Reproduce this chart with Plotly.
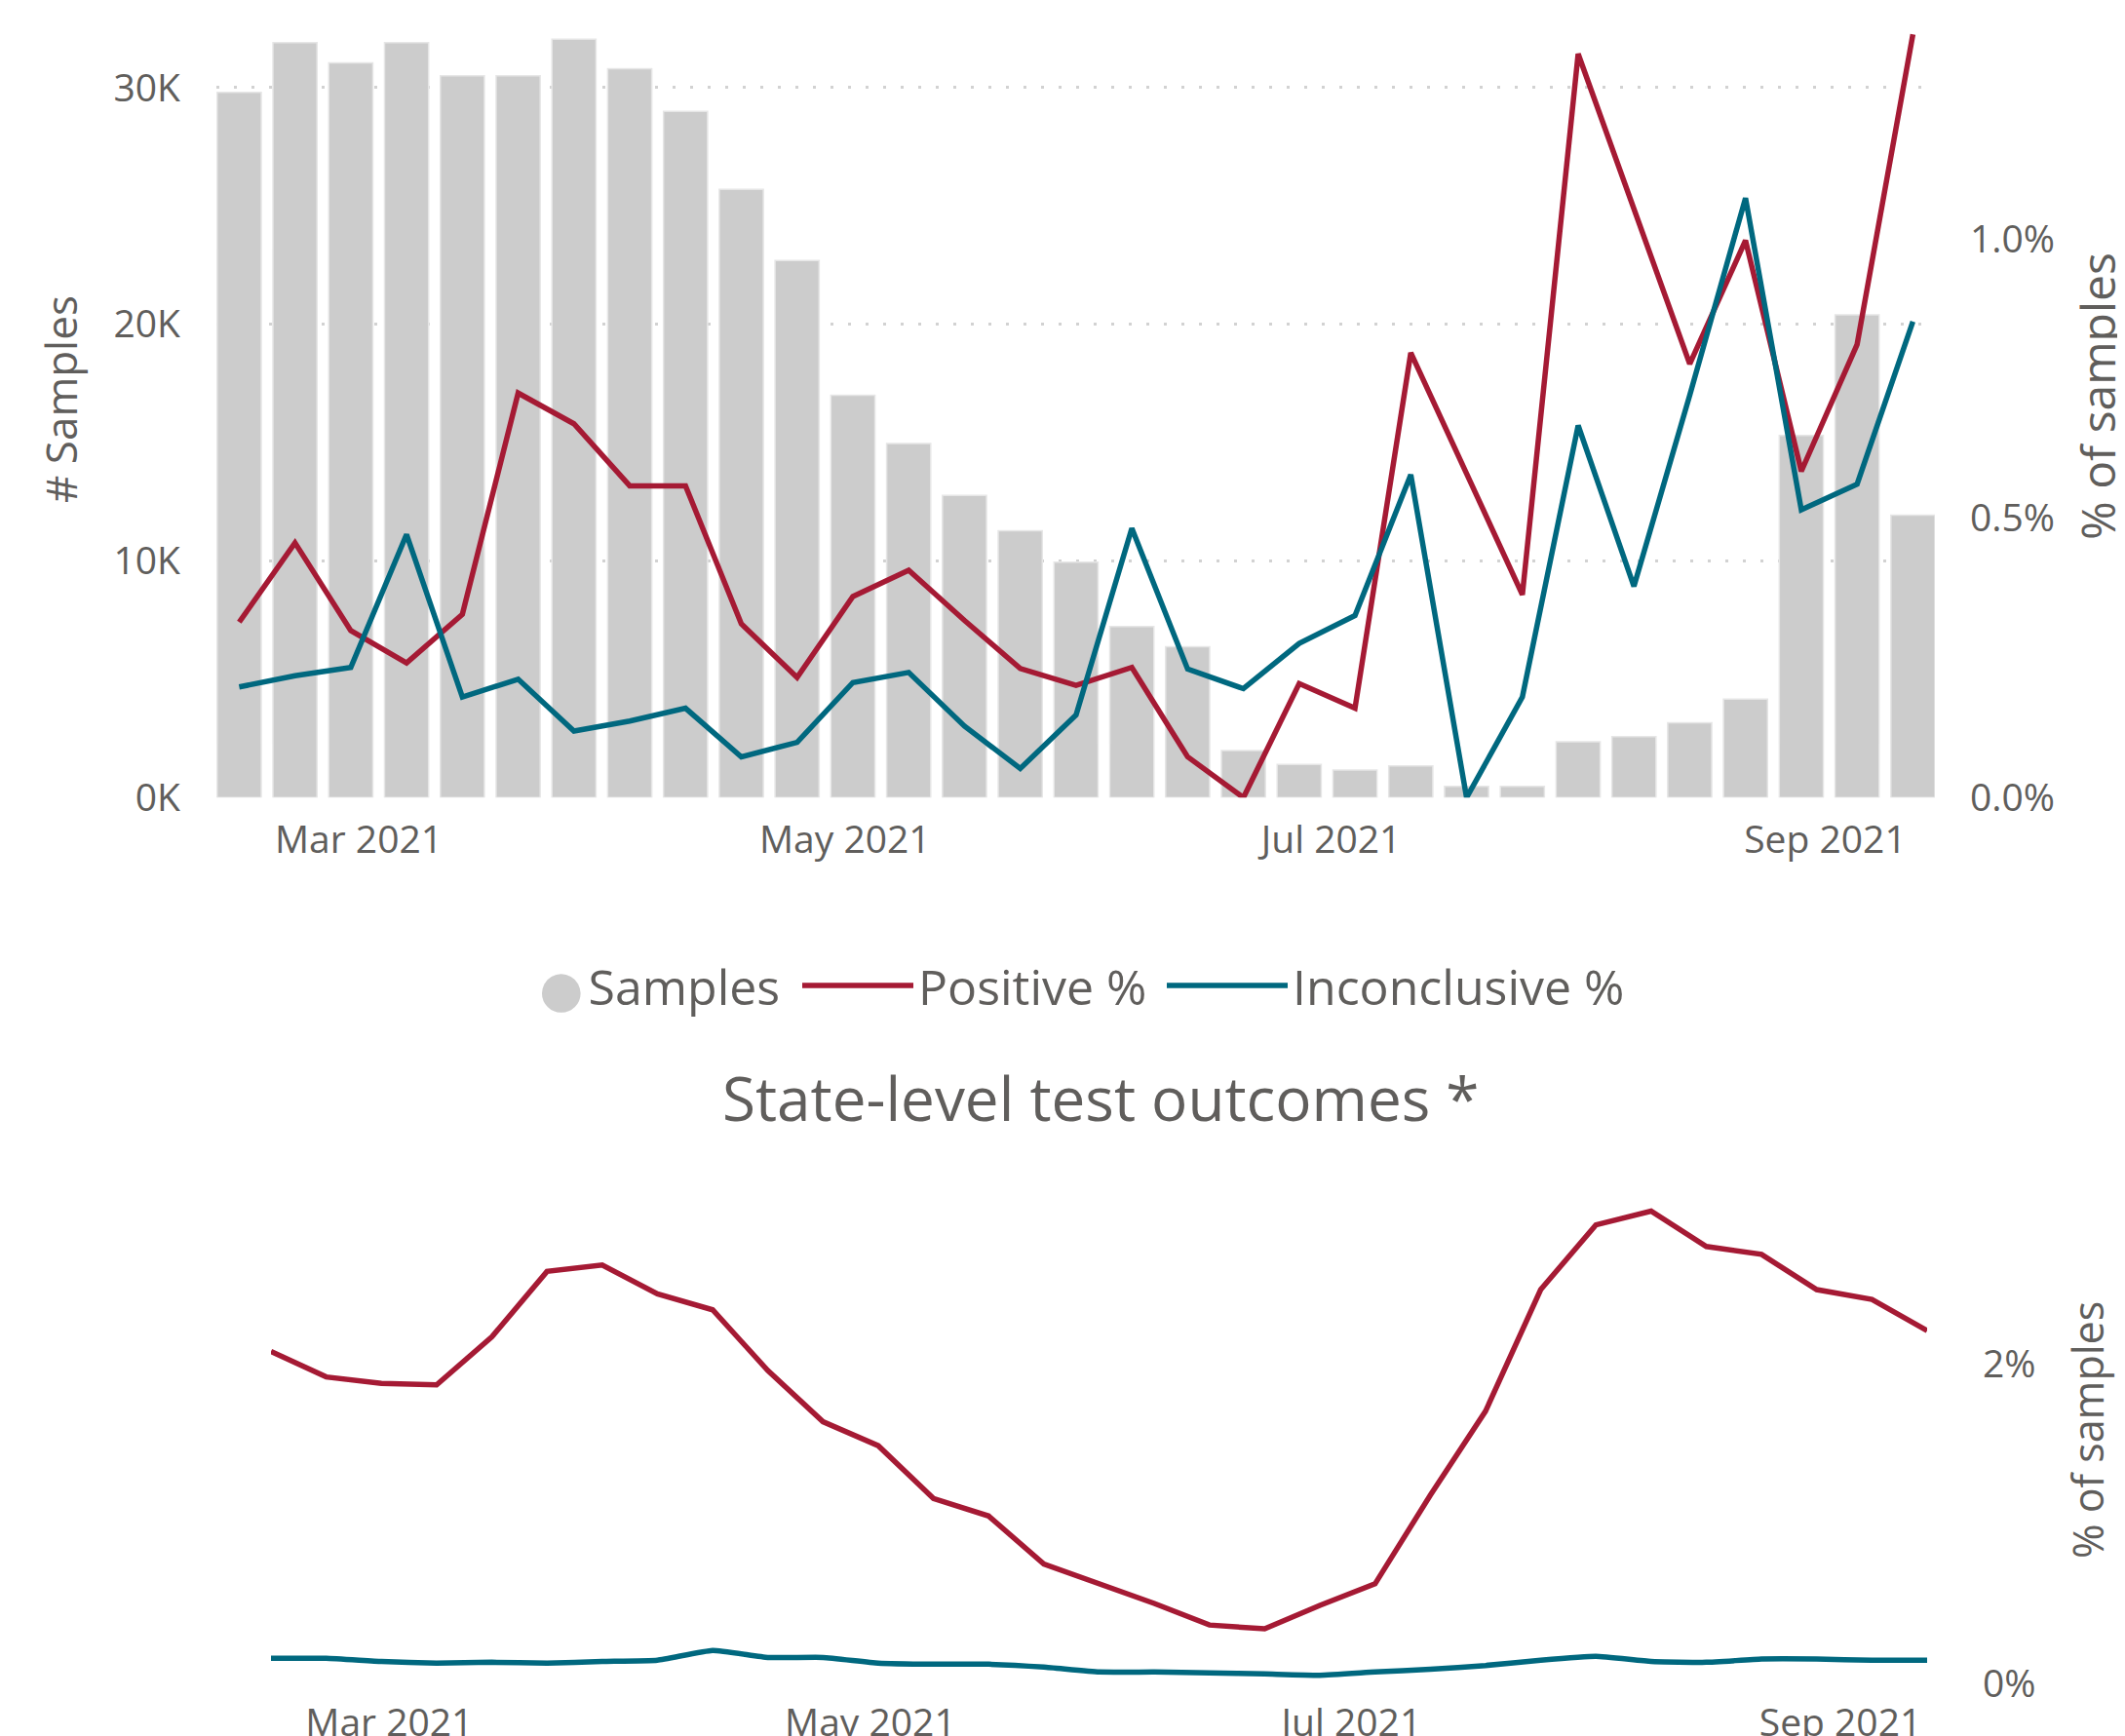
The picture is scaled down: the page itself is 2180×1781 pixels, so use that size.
import plotly.graph_objects as go

# ---------------- data ----------------
weeks = ["2021-02-14", "2021-02-21", "2021-02-28", "2021-03-07", "2021-03-14", "2021-03-21",
         "2021-03-28", "2021-04-04", "2021-04-11", "2021-04-18", "2021-04-25", "2021-05-02",
         "2021-05-09", "2021-05-16", "2021-05-23", "2021-05-30", "2021-06-06", "2021-06-13",
         "2021-06-20", "2021-06-27", "2021-07-04", "2021-07-11", "2021-07-18", "2021-07-25",
         "2021-08-01", "2021-08-08", "2021-08-15", "2021-08-22", "2021-08-29", "2021-09-05",
         "2021-09-12"]

samples = [29800, 31900, 31050, 31900, 30500, 30500, 32050, 30800, 29000, 25700, 22700, 17000,
           14960, 12770, 11280, 9950, 7230, 6380, 1990, 1400, 1170, 1340, 480, 480,
           2360, 2580, 3160, 4160, 15300, 20400, 11940]

positive_pct = [0.314, 0.456, 0.299, 0.241, 0.328, 0.724, 0.669, 0.558, 0.558, 0.311, 0.215, 0.360,
                0.407, 0.317, 0.231, 0.201, 0.233, 0.073, 0.0, 0.204, 0.160, 0.796, 0.580, 0.363,
                1.331, 1.050, 0.776, 0.997, 0.584, 0.811, 1.366]

inconclusive_pct = [0.198, 0.218, 0.233, 0.471, 0.180, 0.212, 0.119, 0.137, 0.160, 0.073, 0.099, 0.206,
                    0.224, 0.128, 0.052, 0.148, 0.482, 0.230, 0.195, 0.276, 0.326, 0.578, 0.0, 0.180,
                    0.666, 0.378, 0.720, 1.073, 0.515, 0.561, 0.852]

state_positive_pct = [2.08, 1.92, 1.88, 1.87, 2.17, 2.58, 2.62, 2.44, 2.34, 1.96, 1.64, 1.49,
                      1.16, 1.05, 0.75, 0.626, 0.503, 0.368, 0.344, 0.491, 0.626, 1.18, 1.705, 2.466,
                      2.871, 2.957, 2.736, 2.687, 2.466, 2.405, 2.209]

state_inconclusive_pct = [0.160, 0.160, 0.140, 0.130, 0.135, 0.130, 0.140, 0.148, 0.209, 0.165, 0.165, 0.130,
                          0.123, 0.123, 0.105, 0.074, 0.074, 0.069, 0.062, 0.054, 0.074, 0.091, 0.115, 0.148,
                          0.172, 0.140, 0.135, 0.155, 0.155, 0.148, 0.148]

samples_ticks = [0, 10000, 20000, 30000]
samples_ticktext = ["0K", "10K", "20K", "30K"]
pct_ticks_top = [0, 0.005, 0.01]
pct_ticks_bottom = [0, 0.02]
month_ticks = ["2021-03-01", "2021-05-01", "2021-07-01", "2021-09-01"]

# ---------------- style ----------------
FONT = "Open Sans"
TXT = "#605E5C"
BAR = "#CCCCCC"
RED = "#A51A34"
TEAL = "#00687F"
GRID = "#D2D2D2"

OFF = 8                      # page body margin of the html page
W, H = 2180 - OFF, 1781 - OFF


def px(v):                   # horizontal page pixel -> paper fraction
    return (v - OFF) / W


def py(v):                   # vertical page pixel -> paper fraction
    return 1 - (v - OFF) / H


fig = go.Figure()

fig.add_trace(go.Bar(x=weeks, y=samples, name="Samples",
                     marker=dict(color=BAR, line=dict(color="#E6E6E6", width=1.5)),
                     xaxis="x", yaxis="y", showlegend=False))
fig.add_trace(go.Scatter(x=weeks, y=[v / 100 for v in positive_pct], name="Positive %", mode="lines",
                         line=dict(color=RED, width=5.5), xaxis="x", yaxis="y2", legend="legend2"))
fig.add_trace(go.Scatter(x=weeks, y=[v / 100 for v in inconclusive_pct], name="Inconclusive %", mode="lines",
                         line=dict(color=TEAL, width=5.5), xaxis="x", yaxis="y2", legend="legend3"))
# legend entry for samples (circle glyph)
fig.add_trace(go.Scatter(x=[None], y=[None], mode="markers",
                         marker=dict(size=2, color="rgba(0,0,0,0)", opacity=0),
                         name="<span style='color:%s;font-size:92px;baseline-shift:-14px'>\u25CF</span>Samples" % BAR,
                         xaxis="x", yaxis="y", legend="legend"))

fig.add_trace(go.Scatter(x=weeks, y=[v / 100 for v in state_positive_pct], mode="lines",
                         line=dict(color=RED, width=5.5), xaxis="x2", yaxis="y3", showlegend=False))
fig.add_trace(go.Scatter(x=weeks, y=[v / 100 for v in state_inconclusive_pct], mode="lines",
                         line=dict(color=TEAL, width=5.5, shape="spline", smoothing=0.4),
                         xaxis="x2", yaxis="y3", showlegend=False))

tickfont = dict(family=FONT, size=39, color=TXT)
legfont = dict(family=FONT, size=50, color=TXT)

fig.update_layout(
    width=W, height=H,
    margin=dict(l=0, r=0, t=0, b=0),
    paper_bgcolor="white", plot_bgcolor="white",
    bargap=0.21,
    font=dict(family=FONT, color=TXT),
    xaxis=dict(domain=[px(222), px(1985)], range=["2021-02-11 03:20", "2021-09-14 18:20"],
               type="date", tickvals=month_ticks, tickformat="%b %Y", tickfont=tickfont,
               showgrid=False, zeroline=False, showline=False, ticks="", ticklabelstandoff=17,
               automargin=False, anchor="y"),
    yaxis=dict(domain=[py(818.3), py(17.1)], range=[0, 33000], tickvals=samples_ticks,
               ticktext=samples_ticktext, tickfont=tickfont, showgrid=True, gridcolor=GRID,
               gridwidth=3, griddash="3px,15px", zeroline=False, showline=False, ticks="",
               ticklabelstandoff=36, automargin=False, anchor="x"),
    yaxis2=dict(overlaying="y", side="right", range=[0, 0.013975], tickvals=pct_ticks_top,
                tickformat=".1%", tickfont=tickfont, showgrid=False, zeroline=False, showline=False,
                ticks="", ticklabelstandoff=35, automargin=False, anchor="x"),
    xaxis2=dict(domain=[px(278), px(1977)], range=["2021-02-14", "2021-09-12"], type="date",
                tickvals=month_ticks, tickformat="%b %Y", tickfont=tickfont, showgrid=False,
                zeroline=False, showline=False, ticks="", ticklabelstandoff=13, automargin=False,
                anchor="y3"),
    yaxis3=dict(domain=[py(1727.5), py(1202.7)], range=[0, 0.032], side="right",
                tickvals=pct_ticks_bottom, tickformat=".0%", tickfont=tickfont, showgrid=False,
                zeroline=False, showline=False, ticks="", ticklabelstandoff=56, automargin=False,
                anchor="x2"),
    legend=dict(x=px(508), y=py(1011), xanchor="left", yanchor="middle", xref="paper", yref="paper",
                itemwidth=30, font=legfont, bgcolor="rgba(0,0,0,0)"),
    legend2=dict(x=px(818), y=py(1011), xanchor="left", yanchor="middle", xref="paper", yref="paper",
                 itemwidth=114, font=legfont, bgcolor="rgba(0,0,0,0)"),
    legend3=dict(x=px(1192), y=py(1011), xanchor="left", yanchor="middle", xref="paper", yref="paper",
                 itemwidth=124, font=legfont, bgcolor="rgba(0,0,0,0)"),
    annotations=[
        dict(text="# Samples", x=px(62), y=py(410), xref="paper", yref="paper", textangle=-90,
             showarrow=False, xanchor="center", yanchor="middle", font=dict(family=FONT, size=44, color=TXT)),
        dict(text="% of samples", x=px(2152), y=py(407), xref="paper", yref="paper", textangle=-90,
             showarrow=False, xanchor="center", yanchor="middle", font=dict(family=FONT, size=48, color=TXT)),
        dict(text="% of samples", x=px(2141), y=py(1467), xref="paper", yref="paper", textangle=-90,
             showarrow=False, xanchor="center", yanchor="middle", font=dict(family=FONT, size=43, color=TXT)),
        dict(text="State-level test outcomes *", x=px(1129), y=py(1126), xref="paper", yref="paper",
             showarrow=False, xanchor="center", yanchor="middle", font=dict(family=FONT, size=62, color=TXT)),
    ],
)

fig.write_html("out.html")
